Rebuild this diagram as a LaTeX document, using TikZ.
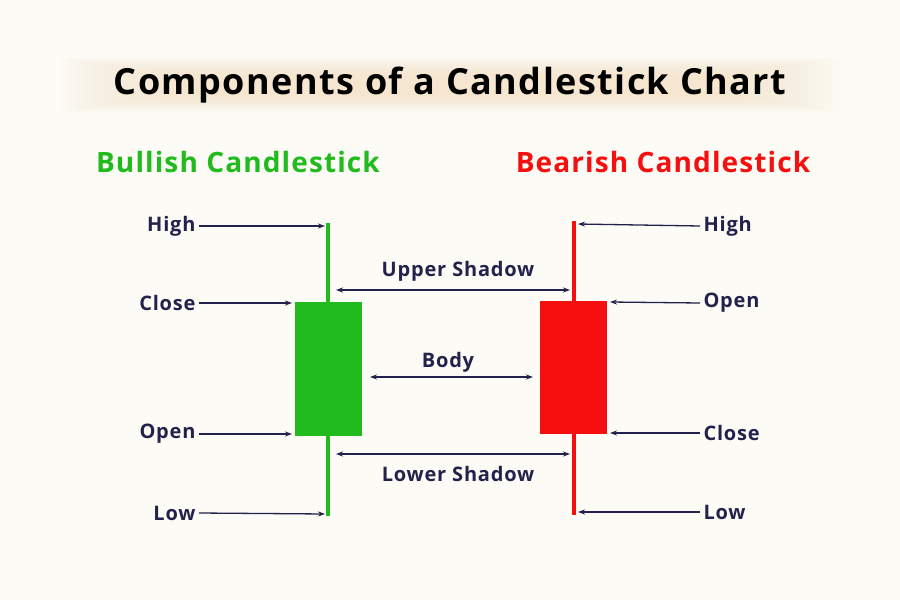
\documentclass[tikz,border=0pt]{standalone}
\usepackage{fontspec}
\setmainfont{Open Sans}[LetterSpace=4]
\usetikzlibrary{arrows.meta}
\definecolor{bg}{HTML}{FCFBF5}
\definecolor{navy}{HTML}{23224C}
\definecolor{bull}{HTML}{22BB1E}
\definecolor{bear}{HTML}{F50F0F}
\definecolor{glow}{HTML}{F6DFC0}
\begin{document}
\begin{tikzpicture}[x=1pt,y=-1pt,
  lbl/.style={font=\fontsize{20}{22}\selectfont\bfseries, text=navy},
  arr/.style={navy, line width=1.3pt, -{Stealth[length=7pt,width=5pt]}},
  darr/.style={navy, line width=1.3pt, {Stealth[length=7pt,width=5pt]}-{Stealth[length=7pt,width=5pt]}}]
\fill[bg] (0,0) rectangle (900,600);
\useasboundingbox (0,0) rectangle (900,600);
% title glow
\foreach \i in {0,...,14}{
  \fill[glow, opacity=0.06] (60+\i*8,58+\i*1.2) rectangle (840-\i*8,112-\i*1.2);
}
\node (title) at (450,85) {\fontsize{36}{40}\selectfont\bfseries Components of a Candlestick Chart};
\node[text=bull, font=\fontsize{28}{32}\selectfont\bfseries] (bulllbl) at (238,162) {Bullish Candlestick};
\node[text=bear, font=\fontsize{28}{32}\selectfont\bfseries] (bearlbl) at (663,162) {Bearish Candlestick};
% candles
\fill[bull] (326,223) rectangle (330,516);
\fill[bull] (295,302) rectangle (362,436);
\fill[bear] (572,221) rectangle (576,515);
\fill[bear] (540,301) rectangle (607,434);
% coordinates
\coordinate (gH) at (325,226); \coordinate (gC) at (292,303);
\coordinate (gO) at (292,434); \coordinate (gL) at (325,514);
\coordinate (rH) at (578,224); \coordinate (rO) at (610,302);
\coordinate (rC) at (610,433); \coordinate (rL) at (578,512);
% left labels
\node[lbl, anchor=east] (lH) at (199,226) {High};
\node[lbl, anchor=east] (lC) at (199,303) {Close};
\node[lbl, anchor=east] (lO) at (199,434) {Open};
\node[lbl, anchor=east] (lL) at (199,513) {Low};
\draw[arr] (lH.east) -- (gH);
\draw[arr] (lC.east) -- (gC);
\draw[arr] (lO.east) -- (gO);
\draw[arr] (lL.east) -- (gL);
% right labels
\node[lbl, anchor=west] (rHl) at (700,226) {High};
\node[lbl, anchor=west] (rOl) at (700,303) {Open};
\node[lbl, anchor=west] (rCl) at (700,433) {Close};
\node[lbl, anchor=west] (rLl) at (700,512) {Low};
\draw[arr] (rHl.west) -- (rH);
\draw[arr] (rOl.west) -- (rO);
\draw[arr] (rCl.west) -- (rC);
\draw[arr] (rLl.west) -- (rL);
% middle
\node[lbl] (us) at (458,271) {Upper Shadow};
\node[lbl] (bd) at (448,362) {Body};
\node[lbl] (ls) at (458,474) {Lower Shadow};
\coordinate (u1) at (336,290); \coordinate (u2) at (570,290);
\coordinate (b1) at (370,377); \coordinate (b2) at (533,377);
\coordinate (l1) at (336,454); \coordinate (l2) at (570,454);
\draw[darr] (u1) -- (u2);
\draw[darr] (b1) -- (b2);
\draw[darr] (l1) -- (l2);
\end{tikzpicture}
\end{document}
